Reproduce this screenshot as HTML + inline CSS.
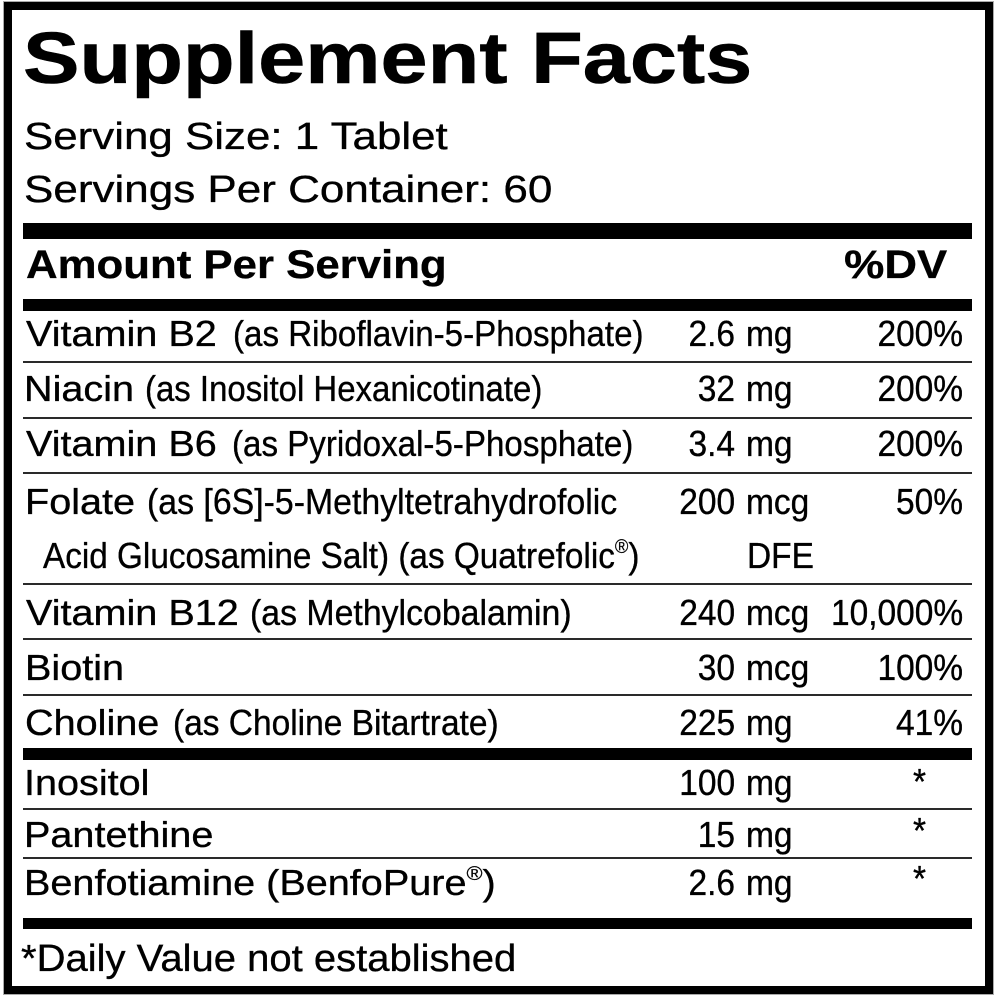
<!DOCTYPE html>
<html><head><meta charset="utf-8">
<style>
html,body{margin:0;padding:0;background:#fff;}
body{width:1000px;height:998px;position:relative;overflow:hidden;}
.box{position:absolute;left:4px;top:2px;width:989px;height:992px;border:8px solid #000;box-sizing:border-box;box-shadow:0 0 0 1px #aaa;}
.bar{position:absolute;left:23px;width:949px;background:#000;}
.ln{position:absolute;left:23px;width:949px;height:2px;background:#2a2a2a;}
.t{position:absolute;white-space:nowrap;line-height:1;font-family:"Liberation Sans",Arial,sans-serif;color:#000;-webkit-text-stroke:0.35px #000;}
.L{transform-origin:0 0;}
.R{transform-origin:100% 0;}
.b{font-weight:bold;}
.f36{font-size:36px;}
.rg{transform:scaleX(1.10);}
.nr{transform:scaleX(0.93);}
.reg{font-size:0.55em;vertical-align:0.75em;line-height:0;-webkit-text-stroke:0.2px #000;}
</style></head><body>
<div class="box"></div>

<div class="t L b" style="left:23px;top:23px;font-size:72px;transform:scaleX(1.176);-webkit-text-stroke:0.6px #000;">Supplement Facts</div>
<div class="t L" style="left:24px;top:118px;font-size:38px;transform:scaleX(1.155);">Serving Size: 1 Tablet</div>
<div class="t L" style="left:24px;top:171px;font-size:38px;transform:scaleX(1.158);">Servings Per Container: 60</div>

<div class="bar" style="top:223px;height:16px;"></div>
<div class="t L b" style="left:26px;top:245px;font-size:40px;transform:scaleX(1.094);">Amount Per Serving</div>
<div class="t R b" style="right:53px;top:245px;font-size:40px;transform:scaleX(1.13);">%DV</div>
<div class="bar" style="top:299px;height:12px;"></div>

<!-- rows -->
<div class="t L f36 rg" style="left:26px;top:316px;">Vitamin B2</div>
<div class="t L f36" style="left:233px;top:316px;transform:scaleX(0.92);">(as Riboflavin-5-Phosphate)</div>
<div class="t R f36 nr" style="right:265px;top:316px;">2.6</div>
<div class="t L f36 nr" style="left:746px;top:316px;">mg</div>
<div class="t R f36 nr" style="right:37px;top:316px;">200%</div>
<div class="ln" style="top:361px;"></div>

<div class="t L f36 rg" style="left:24px;top:371px;">Niacin</div>
<div class="t L f36" style="left:145px;top:371px;transform:scaleX(0.915);">(as Inositol Hexanicotinate)</div>
<div class="t R f36 nr" style="right:265px;top:371px;">32</div>
<div class="t L f36 nr" style="left:746px;top:371px;">mg</div>
<div class="t R f36 nr" style="right:37px;top:371px;">200%</div>
<div class="ln" style="top:417px;"></div>

<div class="t L f36 rg" style="left:26px;top:426px;">Vitamin B6</div>
<div class="t L f36" style="left:232px;top:426px;transform:scaleX(0.92);">(as Pyridoxal-5-Phosphate)</div>
<div class="t R f36 nr" style="right:265px;top:426px;">3.4</div>
<div class="t L f36 nr" style="left:746px;top:426px;">mg</div>
<div class="t R f36 nr" style="right:37px;top:426px;">200%</div>
<div class="ln" style="top:472px;"></div>

<div class="t L f36 rg" style="left:25px;top:484px;">Folate</div>
<div class="t L f36" style="left:147px;top:484px;transform:scaleX(0.94);">(as [6S]-5-Methyltetrahydrofolic</div>
<div class="t R f36 nr" style="right:265px;top:484px;">200</div>
<div class="t L f36 nr" style="left:746px;top:484px;">mcg</div>
<div class="t R f36 nr" style="right:37px;top:484px;">50%</div>
<div class="t L f36" style="left:43px;top:538px;transform:scaleX(0.925);">Acid Glucosamine Salt) (as Quatrefolic<span class="reg">®</span>)</div>
<div class="t L f36 nr" style="left:747px;top:538px;">DFE</div>
<div class="ln" style="top:583px;"></div>

<div class="t L f36 rg" style="left:26px;top:595px;">Vitamin B12</div>
<div class="t L f36" style="left:250px;top:595px;transform:scaleX(0.94);">(as Methylcobalamin)</div>
<div class="t R f36 nr" style="right:265px;top:595px;">240</div>
<div class="t L f36 nr" style="left:746px;top:595px;">mcg</div>
<div class="t R f36 nr" style="right:37px;top:595px;">10,000%</div>
<div class="ln" style="top:638px;"></div>

<div class="t L f36 rg" style="left:25px;top:650px;">Biotin</div>
<div class="t R f36 nr" style="right:265px;top:650px;">30</div>
<div class="t L f36 nr" style="left:746px;top:650px;">mcg</div>
<div class="t R f36 nr" style="right:37px;top:650px;">100%</div>
<div class="ln" style="top:694px;"></div>

<div class="t L f36 rg" style="left:25px;top:705px;">Choline</div>
<div class="t L f36" style="left:173px;top:705px;transform:scaleX(0.93);">(as Choline Bitartrate)</div>
<div class="t R f36 nr" style="right:265px;top:705px;">225</div>
<div class="t L f36 nr" style="left:746px;top:705px;">mg</div>
<div class="t R f36 nr" style="right:37px;top:705px;">41%</div>

<div class="bar" style="top:748px;height:12px;"></div>

<div class="t L f36 rg" style="left:24px;top:765px;">Inositol</div>
<div class="t R f36 nr" style="right:265px;top:765px;">100</div>
<div class="t L f36 nr" style="left:746px;top:765px;">mg</div>
<div class="t L f36 nr" style="left:913px;top:764px;">*</div>
<div class="ln" style="top:808px;"></div>

<div class="t L f36 rg" style="left:24px;top:817px;">Pantethine</div>
<div class="t R f36 nr" style="right:265px;top:817px;">15</div>
<div class="t L f36 nr" style="left:746px;top:817px;">mg</div>
<div class="t L f36 nr" style="left:913px;top:813px;">*</div>
<div class="ln" style="top:857px;"></div>

<div class="t L f36 rg" style="left:24px;top:865px;">Benfotiamine (BenfoPure<span class="reg">®</span>)</div>
<div class="t R f36 nr" style="right:265px;top:865px;">2.6</div>
<div class="t L f36 nr" style="left:746px;top:865px;">mg</div>
<div class="t L f36 nr" style="left:913px;top:861px;">*</div>

<div class="bar" style="top:918px;height:11px;"></div>
<div class="t L" style="left:21px;top:940px;font-size:38px;transform:scaleX(1.053);">*Daily Value not established</div>
</body></html>
